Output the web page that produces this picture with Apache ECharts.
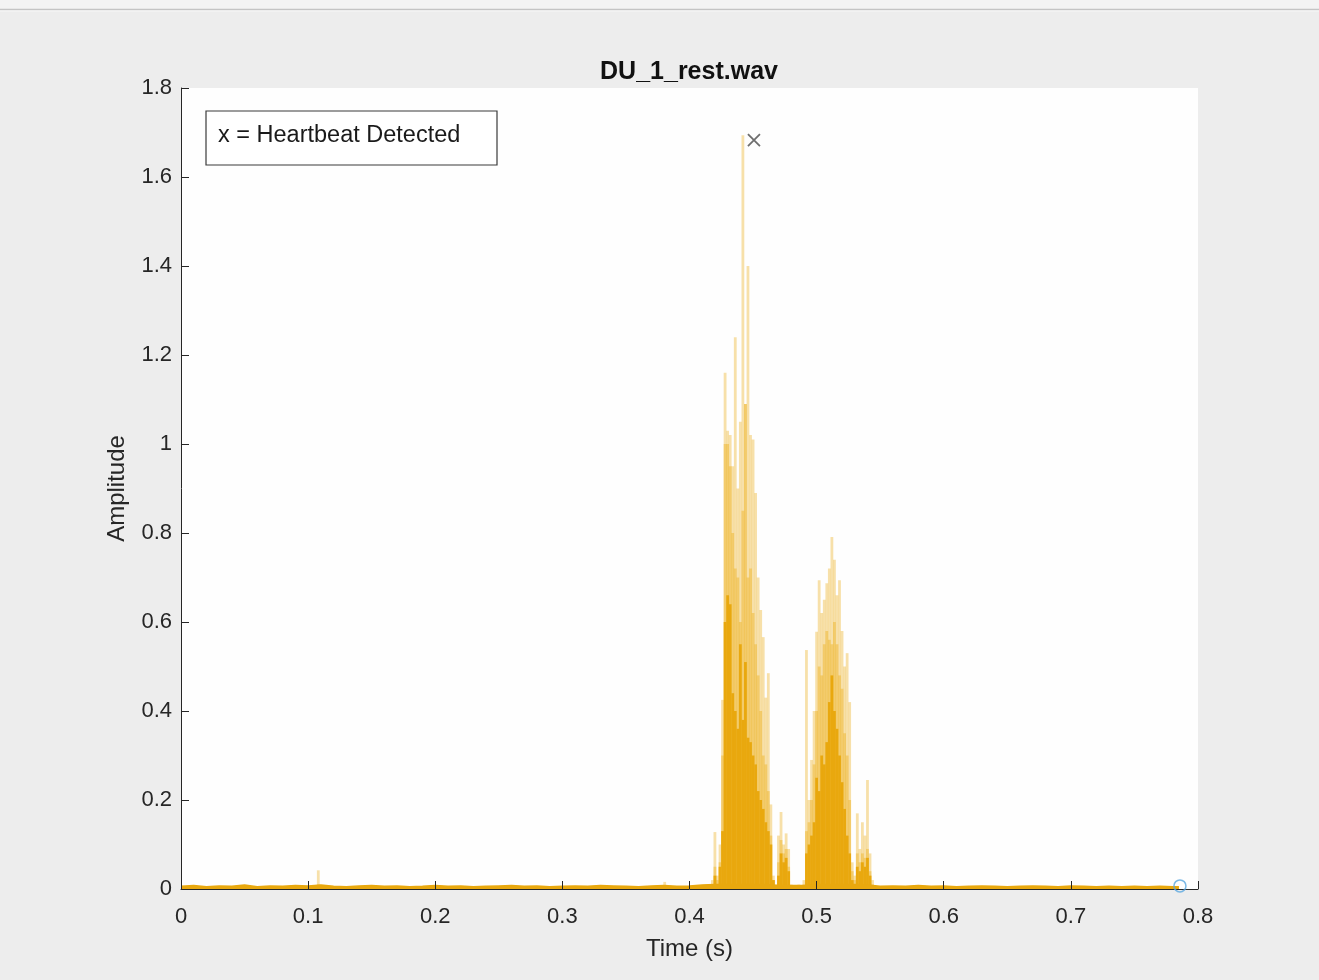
<!DOCTYPE html>
<html>
<head>
<meta charset="utf-8">
<script src="https://cdn.jsdelivr.net/npm/echarts@6/dist/echarts.min.js"></script>
<style>
  html, body { margin: 0; padding: 0; background: #f2f2f2; }
  #chart { width: 1319px; height: 980px; }
</style>
</head>
<body>
<div id="chart"></div>
<script>
// ---------- data ----------
const chartTitle = 'DU_1_rest.wav';
const xTickLabels = ['0', '0.1', '0.2', '0.3', '0.4', '0.5', '0.6', '0.7', '0.8'];

// sample times (s) of the burst / spike envelope
const burstTimes = [0.108, 0.3805,
  0.418, 0.420, 0.422, 0.424, 0.426, 0.428, 0.430, 0.432, 0.434, 0.436,
  0.438, 0.440, 0.442, 0.444, 0.446, 0.448, 0.450, 0.452, 0.454, 0.456,
  0.458, 0.460, 0.462, 0.464, 0.466, 0.468, 0.470, 0.472, 0.474, 0.476,
  0.478, 0.480, 0.482, 0.484, 0.486, 0.488, 0.490, 0.492, 0.494, 0.496,
  0.498, 0.500, 0.502, 0.504, 0.506, 0.508, 0.510, 0.512, 0.514, 0.516,
  0.518, 0.520, 0.522, 0.524, 0.526, 0.528, 0.530, 0.532, 0.534, 0.536,
  0.538, 0.540, 0.542, 0.544];
// tallest (faint) spikes
const peakAmp = [0.042, 0.016,
  0.02, 0.128, 0.03, 0.10, 0.425, 1.16, 1.03, 1.02, 0.95, 1.24,
  0.90, 1.05, 1.694, 1.09, 1.40, 1.02, 1.01, 0.89, 0.70, 0.627,
  0.566, 0.43, 0.485, 0.19, 0.03, 0.01, 0.12, 0.173, 0.10, 0.125,
  0.09, 0.01, 0.008, 0.006, 0.01, 0.007, 0.02, 0.537, 0.20, 0.29,
  0.40, 0.578, 0.694, 0.62, 0.65, 0.687, 0.72, 0.791, 0.74, 0.66,
  0.694, 0.58, 0.50, 0.53, 0.42, 0.06, 0.03, 0.17, 0.09, 0.15,
  0.12, 0.245, 0.08, 0.02];
// overlapping (medium) envelope
const midAmp = [0.01, 0.006,
  0.01, 0.05, 0.02, 0.06, 0.30, 1.00, 1.00, 0.95, 0.80, 0.72,
  0.70, 0.60, 0.85, 1.09, 0.70, 0.72, 0.62, 0.55, 0.48, 0.40,
  0.30, 0.28, 0.22, 0.12, 0.02, 0.008, 0.06, 0.11, 0.08, 0.09,
  0.05, 0.008, 0.006, 0.005, 0.006, 0.005, 0.01, 0.13, 0.15, 0.20,
  0.28, 0.40, 0.50, 0.48, 0.55, 0.58, 0.56, 0.55, 0.60, 0.55,
  0.48, 0.45, 0.35, 0.30, 0.20, 0.04, 0.02, 0.08, 0.06, 0.08,
  0.07, 0.09, 0.04, 0.01];
// dense (solid) core
const coreAmp = [0.008, 0.006,
  0.01, 0.03, 0.01, 0.05, 0.13, 0.60, 0.66, 0.64, 0.44, 0.40,
  0.36, 0.55, 0.38, 0.51, 0.34, 0.33, 0.30, 0.28, 0.22, 0.20,
  0.18, 0.15, 0.13, 0.10, 0.02, 0.005, 0.03, 0.08, 0.06, 0.07,
  0.04, 0.005, 0.005, 0.004, 0.005, 0.004, 0.005, 0.08, 0.10, 0.12,
  0.15, 0.25, 0.22, 0.30, 0.28, 0.33, 0.42, 0.48, 0.40, 0.36,
  0.30, 0.24, 0.18, 0.12, 0.08, 0.02, 0.01, 0.05, 0.04, 0.06,
  0.05, 0.07, 0.03, 0.005];

// low-level background noise along the whole recording
const baseTimes = [0.000, 0.010, 0.020, 0.030, 0.040, 0.050, 0.060, 0.070, 0.080, 0.090,
  0.100, 0.110, 0.120, 0.130, 0.140, 0.150, 0.160, 0.170, 0.180, 0.190,
  0.200, 0.210, 0.220, 0.230, 0.240, 0.250, 0.260, 0.270, 0.280, 0.290,
  0.300, 0.310, 0.320, 0.330, 0.340, 0.350, 0.360, 0.370, 0.380, 0.390,
  0.400, 0.410, 0.420, 0.430, 0.440, 0.450, 0.460, 0.470, 0.480, 0.490,
  0.500, 0.510, 0.520, 0.530, 0.540, 0.550, 0.560, 0.570, 0.580, 0.590,
  0.600, 0.610, 0.620, 0.630, 0.640, 0.650, 0.660, 0.670, 0.680, 0.690,
  0.700, 0.710, 0.720, 0.730, 0.740, 0.750, 0.760, 0.770, 0.780, 0.785];
const baseAmp = [0.006, 0.008, 0.005, 0.007, 0.006, 0.009, 0.005, 0.007, 0.006, 0.008,
  0.007, 0.009, 0.006, 0.005, 0.007, 0.008, 0.006, 0.007, 0.005, 0.006,
  0.008, 0.006, 0.007, 0.005, 0.006, 0.007, 0.008, 0.006, 0.007, 0.005,
  0.006, 0.007, 0.006, 0.008, 0.007, 0.006, 0.005, 0.007, 0.008, 0.006,
  0.007, 0.009, 0.010, 0.010, 0.010, 0.010, 0.010, 0.008, 0.008, 0.008,
  0.010, 0.010, 0.010, 0.010, 0.009, 0.006, 0.007, 0.006, 0.008, 0.006,
  0.007, 0.005, 0.006, 0.007, 0.006, 0.005, 0.006, 0.007, 0.006, 0.005,
  0.007, 0.006, 0.005, 0.006, 0.005, 0.006, 0.005, 0.006, 0.005, 0.005];

// detection markers
const heartbeatX = [0.4507];
const heartbeatY = [1.683];
const endX = [0.7858];
const endY = [0.007];

// ---------- chart ----------
const zipPairs = (xs, ys) => xs.map((x, i) => [x, ys[i]]);
const AX = '#262626';
const ORANGE = '#EDB120';
const FONT = 'Liberation Sans, Arial, Helvetica, sans-serif';

const chart = echarts.init(document.getElementById('chart'), null, { renderer: 'canvas' });

const barCommon = {
  type: 'bar',
  barWidth: 2.8,
  barGap: '-100%',
  silent: true,
  animation: false
};

chart.setOption({
  backgroundColor: '#ededed',
  animation: false,
  title: {
    text: chartTitle,
    left: 684,
    top: 55,
    textAlign: 'center',
    textStyle: { fontFamily: FONT, fontSize: 25, fontWeight: 'bold', color: '#111' }
  },
  grid: {
    left: 181, right: 121, top: 88, bottom: 91,
    show: true, backgroundColor: '#fefefe', borderWidth: 0
  },
  xAxis: {
    type: 'value',
    min: 0, max: 0.8, interval: 0.1,
    z: 10,
    name: 'Time (s)',
    nameLocation: 'middle',
    nameGap: 48,
    nameTextStyle: { fontFamily: FONT, fontSize: 24, color: AX },
    axisLine: { show: true, lineStyle: { color: AX, width: 1 } },
    axisTick: { show: true, inside: true, length: 8, lineStyle: { color: AX } },
    axisLabel: {
      fontFamily: FONT, fontSize: 22, color: AX, margin: 17,
      formatter: (v) => xTickLabels[Math.round(v * 10)]
    },
    splitLine: { show: false }
  },
  yAxis: {
    type: 'value',
    min: 0, max: 1.8, interval: 0.2,
    z: 10,
    name: 'Amplitude',
    nameLocation: 'middle',
    nameGap: 52,
    nameRotate: 90,
    nameTextStyle: { fontFamily: FONT, fontSize: 24, color: AX },
    axisLine: { show: true, lineStyle: { color: AX, width: 1 } },
    axisTick: { show: true, inside: true, length: 8, lineStyle: { color: AX } },
    axisLabel: {
      fontFamily: FONT, fontSize: 22, color: AX, margin: 9,
      formatter: (v) => String(Math.round(v * 10) / 10)
    },
    splitLine: { show: false }
  },
  graphic: [
    { type: 'rect', silent: true, z: 100, shape: { x: 0, y: 0, width: 1319, height: 9 },
      style: { fill: '#f3f3f3' } },
    { type: 'line', silent: true, z: 100, shape: { x1: 0, y1: 9.5, x2: 1319, y2: 9.5 },
      style: { stroke: '#c4c4c4', lineWidth: 1.5 } },
    { type: 'line', silent: true, z: 100, shape: { x1: 0, y1: 11, x2: 1319, y2: 11 },
      style: { stroke: '#f8f8f8', lineWidth: 1 } },
    { type: 'rect', silent: true, z: 100, shape: { x: 206, y: 111, width: 291, height: 54 },
      style: { fill: '#ffffff', stroke: '#3a3a3a', lineWidth: 1.2 } },
    { type: 'text', silent: true, z: 101, left: 218, top: 124,
      style: { text: 'x = Heartbeat Detected', font: '23.5px ' + FONT, fill: '#1a1a1a' } }
  ],
  series: [
    Object.assign({}, barCommon, {
      name: 'peak',
      data: zipPairs(burstTimes, peakAmp),
      itemStyle: { color: ORANGE, opacity: 0.38 }
    }),
    Object.assign({}, barCommon, {
      name: 'mid',
      data: zipPairs(burstTimes, midAmp),
      itemStyle: { color: ORANGE, opacity: 0.45 }
    }),
    Object.assign({}, barCommon, {
      name: 'core',
      data: zipPairs(burstTimes, coreAmp),
      itemStyle: { color: '#E9A80E', opacity: 1 }
    }),
    {
      type: 'line',
      name: 'base',
      data: zipPairs(baseTimes, baseAmp),
      showSymbol: false,
      silent: true,
      lineStyle: { color: '#E9A80E', width: 1.5 },
      areaStyle: { color: '#E9A80E', opacity: 1 },
      z: 3
    },
    {
      type: 'scatter',
      name: 'heartbeat',
      data: zipPairs(heartbeatX, heartbeatY),
      symbol: 'path://M0,0L10,10M10,0L0,10',
      symbolSize: 12,
      itemStyle: { color: 'rgba(0,0,0,0)', borderColor: '#4a4a4a', borderWidth: 1.8 },
      silent: true,
      z: 20
    },
    {
      type: 'scatter',
      name: 'end',
      data: zipPairs(endX, endY),
      symbol: 'circle',
      symbolSize: 12,
      itemStyle: { color: 'rgba(0,0,0,0)', borderColor: '#5aa8e0', borderWidth: 1.5 },
      silent: true,
      z: 20
    }
  ]
});
</script>
</body>
</html>
